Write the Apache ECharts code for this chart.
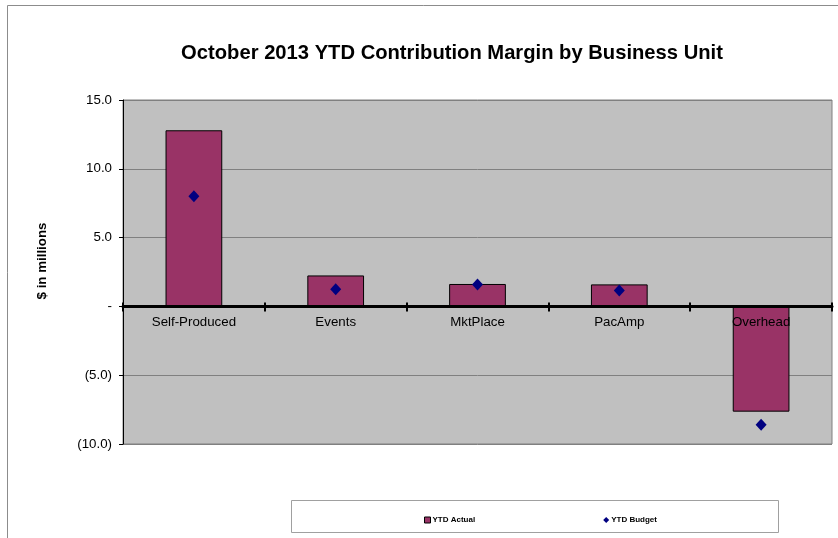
<!DOCTYPE html>
<html>
<head>
<meta charset="utf-8">
<script src="https://cdn.jsdelivr.net/npm/echarts@6/dist/echarts.min.js"></script>
<style>
  html, body { margin: 0; padding: 0; background: #ffffff; }
  #chart { width: 838px; height: 538px; }
</style>
</head>
<body>
<div id="chart"></div>
<script>
// Business units and YTD figures ($ millions)
const units = ['Self-Produced', 'Events', 'MktPlace', 'PacAmp', 'Overhead'];
const ytdActual = [12.8, 2.25, 1.63, 1.6, -7.65];
const ytdBudget = [8.0, 1.25, 1.6, 1.15, -8.6];
const yTicks = { min: -10, max: 15, step: 5 };

// Plot box in pixels
const plot = { left: 123, right: 6, top: 100, bottom: 94, height: 344 };
// Distance from the bottom edge of the plot up to the zero line
const zeroOffset = plot.height * (0 - yTicks.min) / (yTicks.max - yTicks.min);
const labelSize = 13.3;

function fmtMillions(v) {
  if (v === 0) return '-';
  const s = Math.abs(v).toFixed(1);
  return v < 0 ? '(' + s + ')' : s;
}

const chart = echarts.init(document.getElementById('chart'), null, { renderer: 'canvas' });
chart.setOption({
  backgroundColor: '#ffffff',
  animation: false,
  textStyle: { fontFamily: 'Liberation Sans, Arial, sans-serif' },
  title: {
    text: 'October 2013 YTD Contribution Margin by Business Unit',
    left: 447, top: 38, textAlign: 'center',
    textStyle: { fontSize: 20.2, fontWeight: 'bold', color: '#000000' }
  },
  graphic: [
    { type: 'rect', silent: true, z: -10,
      shape: { x: 7.5, y: 5.5, width: 900, height: 600 },
      style: { fill: '#ffffff', stroke: '#8c8c8c', lineWidth: 1 } },
    { type: 'rect', silent: true, z: -5,
      shape: { x: 291.5, y: 500.5, width: 487, height: 32 },
      style: { fill: '#ffffff', stroke: '#a0a0a0', lineWidth: 1 } },
    { type: 'text', silent: true,
      x: 42, y: 261, rotation: Math.PI / 2,
      style: { text: '$ in millions', font: 'bold 13.3px Liberation Sans, Arial, sans-serif',
               fill: '#000000', align: 'center', verticalAlign: 'middle' } }
  ],
  legend: {
    left: 419, top: 511,
    itemGap: 128,
    itemWidth: 6, itemHeight: 6,
    textStyle: { fontSize: 8, fontWeight: 'bold', color: '#000000', padding: [0, 0, 0, -3] },
    data: [
      { name: 'YTD Actual', icon: 'rect', itemStyle: { color: '#993366', borderColor: '#000000', borderWidth: 1 } },
      { name: 'YTD Budget', icon: 'diamond', itemStyle: { color: '#000080', opacity: 1 } }
    ]
  },
  grid: {
    left: plot.left, right: plot.right, top: plot.top, bottom: plot.bottom,
    show: true, backgroundColor: '#c0c0c0', borderColor: '#808080', borderWidth: 1
  },
  xAxis: [
    {
      type: 'category',
      data: units,
      position: 'bottom',
      offset: -zeroOffset,
      z: 3,
      axisLine: { onZero: false, lineStyle: { color: '#000000', width: 3 } },
      axisTick: { show: true, length: 5, lineStyle: { color: '#000000', width: 2 } },
      axisLabel: { margin: 9, fontSize: labelSize, color: '#000000' },
      splitLine: { show: false }
    },
    {
      // tick marks on the upper side of the zero line
      type: 'category',
      data: units,
      position: 'bottom',
      offset: -zeroOffset,
      z: 3,
      axisLine: { show: false, onZero: false },
      axisTick: { show: true, inside: true, length: 4, lineStyle: { color: '#000000', width: 2 } },
      axisLabel: { show: false },
      splitLine: { show: false }
    }
  ],
  yAxis: {
    type: 'value',
    min: yTicks.min, max: yTicks.max, interval: yTicks.step,
    axisLine: { show: true, lineStyle: { color: '#000000', width: 1 } },
    axisTick: { show: true, length: 4, lineStyle: { color: '#000000' } },
    axisLabel: { fontSize: labelSize, color: '#000000', margin: 11, formatter: fmtMillions },
    splitLine: { show: true, lineStyle: { color: '#808080', width: 1 } }
  },
  series: [
    {
      name: 'YTD Actual',
      type: 'bar',
      data: ytdActual,
      barWidth: '40%',
      itemStyle: { color: '#993366', borderColor: '#000000', borderWidth: 1 }
    },
    {
      name: 'YTD Budget',
      type: 'scatter',
      data: ytdBudget,
      symbol: 'diamond',
      symbolSize: [11, 12],
      z: 5,
      itemStyle: { color: '#000080', opacity: 1 }
    }
  ]
});
</script>
</body>
</html>
